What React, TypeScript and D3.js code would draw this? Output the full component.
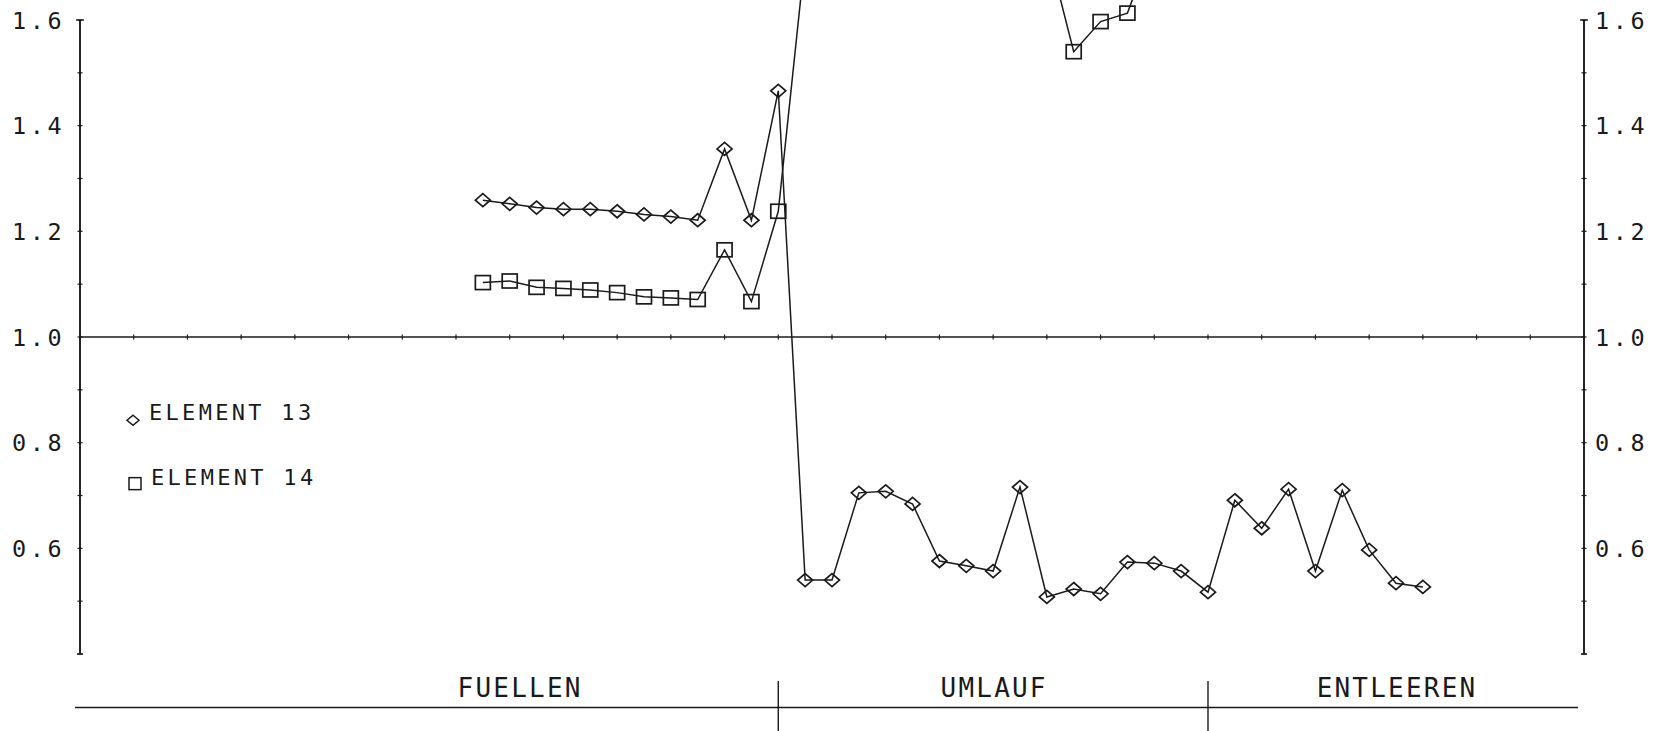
import React from "react";
import * as d3 from "d3";

// sample positions (half-tick units along the time axis)
const samples = [
  15, 16, 17, 18, 19, 20, 21, 22, 23, 24, 25, 26,
  27, 28, 29, 30, 31, 32, 33, 34, 35, 36, 37, 38,
  39, 40, 41, 42, 43, 44, 45, 46, 47, 48, 49, 50,
];

const element13 = [
  1.259, 1.252, 1.245, 1.242, 1.242, 1.238, 1.232, 1.228, 1.221, 1.356, 1.221, 1.466,
  0.54, 0.54, 0.705, 0.708, 0.684, 0.576, 0.567, 0.557, 0.716, 0.508, 0.523, 0.514,
  0.574, 0.572, 0.557, 0.517, 0.691, 0.638, 0.712, 0.557, 0.71, 0.597, 0.534, 0.527,
];

const element14 = [
  1.103, 1.106, 1.094, 1.092, 1.089, 1.084, 1.076, 1.074, 1.071, 1.165, 1.067, 1.238,
  1.72, 1.78, 1.82, 1.85, 1.83, 1.8, 1.79, 1.77, 1.76, 1.74, 1.54, 1.597,
  1.613, 1.75, 1.78, 1.8, 1.76, 1.79, 1.77, 1.8, 1.78, 1.76, 1.75, 1.74,
];

const yTickLabels = [0.6, 0.8, 1.0, 1.2, 1.4, 1.6];
const phaseNames = ["FUELLEN", "UMLAUF", "ENTLEEREN"];
const phaseCenters = [16.35, 34, 49];
const phaseBounds = [26, 42];
const legendNames = ["ELEMENT 13", "ELEMENT 14"];
const legendValues = [0.85, 0.73];

const W = 1656;
const H = 731;
const INK = "#1a1a1a";
const FONT = "'DejaVu Sans Mono', 'Liberation Mono', monospace";

export default function App() {
  const x = d3.scaleLinear().domain([0, 56]).range([80, 1584]);
  const y = d3.scaleLinear().domain([0.4, 1.6]).range([654, 20]);
  const fmt = d3.format(".1f");

  const line = d3
    .line<number>()
    .x((_, i) => x(samples[i]))
    .y((d) => y(d));

  const minorTicks = d3.range(4, 17).map((v) => v / 10);
  const xTicks = d3.range(0, 57, 2);
  const x0 = x(0);
  const x1 = x(56);
  const yTop = y(1.6);
  const yBot = y(0.4);
  const y1 = y(1.0);
  const bandY = 707.5;

  const diamond = (cx: number, cy: number, rx: number, ry: number) =>
    `M${cx},${cy - ry}L${cx + rx},${cy}L${cx},${cy + ry}L${cx - rx},${cy}Z`;

  const axisV = (ax: number, key: string) => (
    <g key={key} stroke={INK} strokeWidth={1.9}>
      <line x1={ax} x2={ax} y1={yTop} y2={yBot} />
      <line x1={ax - 4} x2={ax + 4} y1={yTop} y2={yTop} strokeWidth={1.4} />
      <line x1={ax - 3} x2={ax + 3} y1={yBot} y2={yBot} strokeWidth={1.4} />
      {minorTicks.map((t) => (
        <line key={t} x1={ax - 2.5} x2={ax + 2.5} y1={y(t)} y2={y(t)} strokeWidth={1.2} />
      ))}
    </g>
  );

  return (
    <svg
      width={W}
      height={H}
      viewBox={`0 0 ${W} ${H}`}
      style={{ position: "absolute", left: 0, top: 0, overflow: "hidden", background: "#fff" }}
    >
      <rect x={0} y={0} width={W} height={H} fill="#fff" />

      {/* vertical axes */}
      {axisV(x0, "left")}
      {axisV(x1, "right")}

      {/* reference line at 1.0 */}
      <g stroke={INK}>
        <line x1={x0} x2={x1} y1={y1} y2={y1} strokeWidth={1.7} />
        {xTicks.map((k) => (
          <line key={k} x1={x(k)} x2={x(k)} y1={y1 - 2.5} y2={y1 + 2.5} strokeWidth={1.2} />
        ))}
      </g>

      {/* y tick labels */}
      <g fontFamily={FONT} fontSize={23.5} fill={INK} letterSpacing={3.6}>
        {yTickLabels.map((v) => (
          <text key={"l" + v} x={12} y={y(v) + 8.5}>
            {fmt(v)}
          </text>
        ))}
        {yTickLabels.map((v) => (
          <text key={"r" + v} x={1595} y={y(v) + 8.5}>
            {fmt(v)}
          </text>
        ))}
      </g>

      {/* data lines */}
      <path d={line(element13) || ""} fill="none" stroke={INK} strokeWidth={1.5} />
      <path d={line(element14) || ""} fill="none" stroke={INK} strokeWidth={1.5} />

      {/* markers */}
      <g fill="none" stroke={INK} strokeWidth={1.7}>
        {element13.map((v, i) => (
          <path key={"d" + i} d={diamond(x(samples[i]), y(v), 7.5, 6.5)} />
        ))}
        {element14.map((v, i) => (
          <rect
            key={"s" + i}
            x={x(samples[i]) - 7.5}
            y={y(v) - 7}
            width={15}
            height={14}
          />
        ))}
      </g>

      {/* legend */}
      <g fill="none" stroke={INK} strokeWidth={1.5}>
        <path d={diamond(133, y(legendValues[0]) + 4, 6, 5)} />
        <rect x={129} y={y(legendValues[1]) - 2} width={12} height={12} />
      </g>
      <g fontFamily={FONT} fontSize={22} fill={INK} letterSpacing={3.3}>
        <text x={149} y={y(legendValues[0]) + 4}>
          {legendNames[0]}
        </text>
        <text x={151} y={y(legendValues[1]) + 5}>
          {legendNames[1]}
        </text>
      </g>

      {/* phase band */}
      <g stroke={INK}>
        <line x1={75} x2={1578} y1={bandY} y2={bandY} strokeWidth={1.6} />
        {phaseBounds.map((b) => (
          <line key={b} x1={x(b)} x2={x(b)} y1={681} y2={H} strokeWidth={1.4} />
        ))}
      </g>
      <g fontFamily={FONT} fontSize={26} fill={INK} letterSpacing={2.2} textAnchor="middle">
        {phaseNames.map((n, i) => (
          <text key={n} x={x(phaseCenters[i]) + 1} y={697}>
            {n}
          </text>
        ))}
      </g>
    </svg>
  );
}
